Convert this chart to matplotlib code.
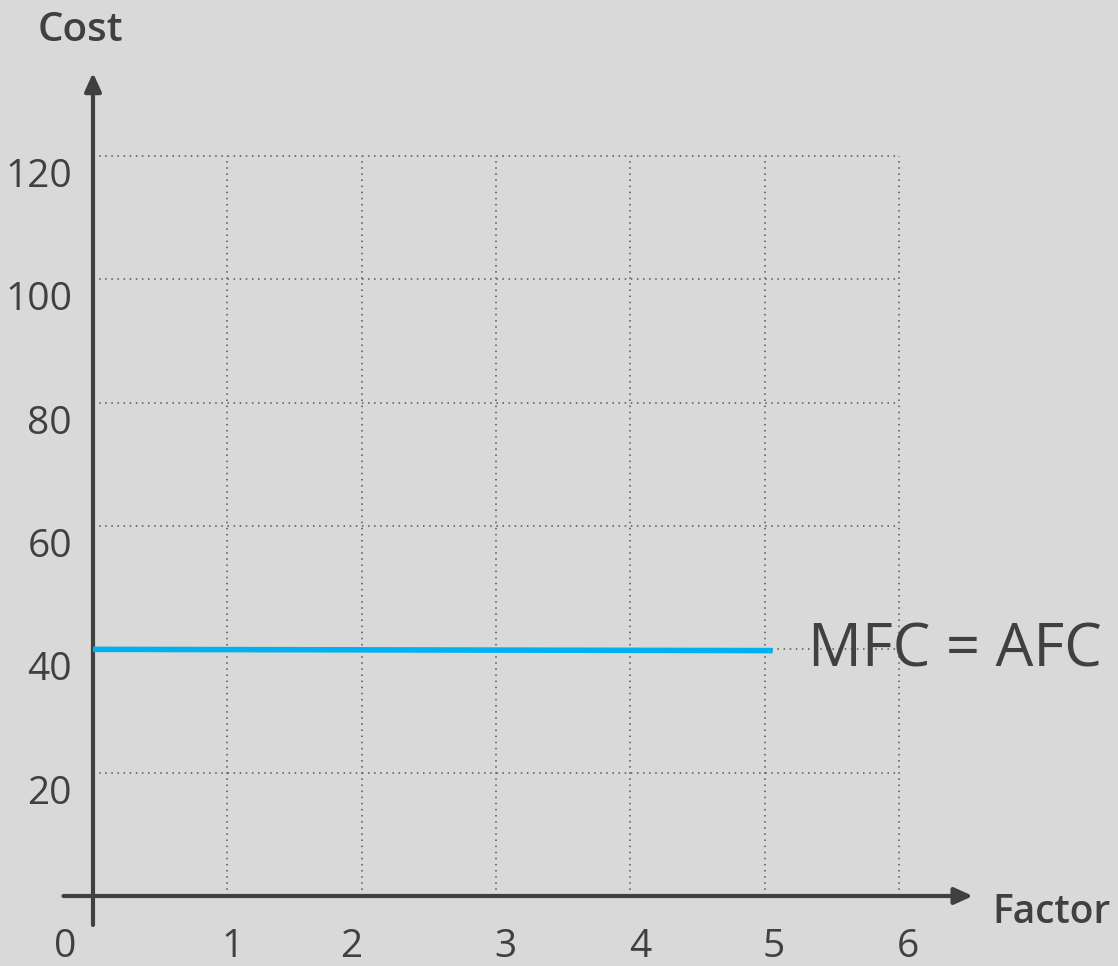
import numpy as np
import matplotlib
matplotlib.use('Agg')
from matplotlib import pyplot as plt
from matplotlib import transforms

# dados
factor = [0, 5.06]
cost = [40.0, 39.8]
xticks = [0, 1, 2, 3, 4, 5, 6]
yticks = [20, 40, 60, 80, 100, 120]
label_curva = 'MFC = AFC'

bg = '#d9d9d9'
cor_eixo = '#404040'
cor_linha = '#00b0f0'

plt.rcParams['font.family'] = ['Open Sans', 'DejaVu Sans']

fig = plt.figure(figsize=(11.18, 9.66), dpi=100, facecolor=bg)
ax = fig.add_axes([0, 0, 1, 1])
ax.set_facecolor(bg)
# 1 unidade x = 134.33 px, 20 unidades y = 123.3 px
ax.set_xlim(-93 / 134.33, (1118 - 93) / 134.33)
ax.set_ylim((896 - 966) / 6.166, 896 / 6.166)
ax.axis('off')

# grade pontilhada
for x in xticks[1:]:
    ax.plot([x, x], [0, yticks[-1]], color='#555555', lw=1.1, ls=(0, (1, 3)), zorder=1)
for y in yticks:
    ax.plot([0, xticks[-1]], [y, y], color='#555555', lw=1.1, ls=(0, (1, 3)), zorder=1)

# eixos com setas
ax.annotate('', xy=(6.55, 0), xytext=(-0.22, 0),
            arrowprops=dict(arrowstyle='-|>,head_length=1.1,head_width=0.5',
                            color=cor_eixo, lw=3, shrinkA=0, shrinkB=0), zorder=3)
ax.annotate('', xy=(0, 133.5), xytext=(0, -4.7),
            arrowprops=dict(arrowstyle='-|>,head_length=1.1,head_width=0.5',
                            color=cor_eixo, lw=3, shrinkA=0, shrinkB=0), zorder=3)

# curva
ax.plot(factor, cost, color=cor_linha, lw=4, solid_capstyle='butt', zorder=4)
ax.text(5.32, cost[-1], label_curva, fontsize=43, color=cor_eixo,
        ha='left', va='center', zorder=5)

# rotulos dos ticks
nudge_x = [-28, 5, -10, 9, 10, 9, 9]
for x, dx in zip(xticks, nudge_x):
    tr = ax.transData + transforms.ScaledTranslation(dx / 100, -51 / 100, fig.dpi_scale_trans)
    ax.text(x, 0, str(x), fontsize=28, color=cor_eixo, ha='center', va='center', transform=tr)
for y in yticks:
    tr = ax.transData + transforms.ScaledTranslation(-21 / 100, -21 / 100, fig.dpi_scale_trans)
    ax.text(0, y, str(y), fontsize=28, color=cor_eixo, ha='right', va='center', transform=tr)

# titulos dos eixos
fig.text(80 / 1118, 1 - 31 / 966, 'Cost', fontsize=29, fontweight='semibold',
         color=cor_eixo, ha='center', va='center')
fig.text(1052 / 1118, 1 - 913 / 966, 'Factor', fontsize=28, fontweight='semibold',
         color=cor_eixo, ha='center', va='center')

fig.savefig('out.png', dpi=100, facecolor=bg)
